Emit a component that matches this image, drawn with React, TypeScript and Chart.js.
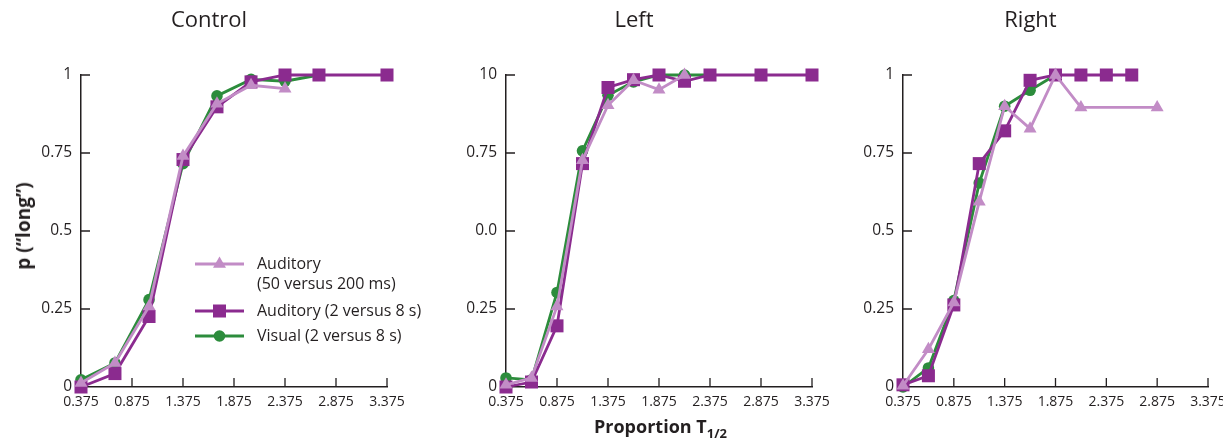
import React, { useEffect, useRef } from 'react';
import { Chart, registerables } from 'chart.js';
import { drawPoint } from 'chart.js/helpers';

Chart.register(...registerables);

const FONT = '"Open Sans", "Noto Sans", sans-serif';
const INK = '#231f20';
const LIGHT = '#C28CC6';
const DARK = '#8B2B8F';
const GREEN = '#2C8C3C';

// ---- axes ----
const xTickValues = [0.375, 0.875, 1.375, 1.875, 2.375, 2.875, 3.375];
const xTickLabels = ['0.375', '0.875', '1.375', '1.875', '2.375', '2.875', '3.375'];
const yTickValues = [0, 0.25, 0.5, 0.75, 1];
const yTickLabelsControl = ['0', '0.25', '0.5', '0.75', '1'];
const yTickLabelsLeft = ['0', '0.25', '0.0', '0.75', '10'];
const yTickLabelsRight = ['0', '0.25', '0.5', '0.75', '1'];

const panelTitles = ['Control', 'Left', 'Right'];
const seriesNames = ['Auditory (50 versus 200 ms)', 'Auditory (2 versus 8 s)', 'Visual (2 versus 8 s)'];
const legendLines = [['Auditory', '(50 versus 200 ms)'], ['Auditory (2 versus 8 s)'], ['Visual (2 versus 8 s)']];

// ---- Control ----
const ctrlTriX = [0.375, 0.708, 1.042, 1.375, 1.708, 2.042, 2.375];
const ctrlTriY = [0.013, 0.077, 0.258, 0.74, 0.908, 0.967, 0.956];
const ctrlSqX = [0.375, 0.708, 1.042, 1.375, 1.708, 2.042, 2.375, 2.708, 3.375];
const ctrlSqY = [0, 0.043, 0.226, 0.729, 0.898, 0.978, 1, 1, 1];
const ctrlCirX = [0.375, 0.708, 1.042, 1.375, 1.708, 2.042, 2.375, 2.708];
const ctrlCirY = [0.023, 0.077, 0.28, 0.716, 0.933, 0.986, 0.98, 1];

// ---- Left ----
const leftTriX = [0.375, 0.625, 0.875, 1.125, 1.375, 1.625, 1.875, 2.125];
const leftTriY = [0.007, 0.029, 0.258, 0.727, 0.903, 0.983, 0.953, 1.0];
const leftSqX = [0.375, 0.625, 0.875, 1.125, 1.375, 1.625, 1.875, 2.125, 2.375, 2.875, 3.375];
const leftSqY = [0, 0.016, 0.196, 0.716, 0.96, 0.985, 1, 0.98, 1, 1, 1];
const leftCirX = [0.375, 0.625, 0.875, 1.125, 1.375, 1.625, 1.875, 2.125, 2.375];
const leftCirY = [0.029, 0.023, 0.303, 0.757, 0.935, 0.978, 1, 1, 1];

// ---- Right ----
const rightTriX = [0.375, 0.625, 0.875, 1.125, 1.375, 1.625, 1.875, 2.125, 2.875];
const rightTriY = [0.004, 0.121, 0.271, 0.594, 0.9, 0.828, 1, 0.896, 0.896];
const rightSqX = [0.375, 0.625, 0.875, 1.125, 1.375, 1.625, 1.875, 2.125, 2.375, 2.625];
const rightSqY = [0.007, 0.036, 0.263, 0.716, 0.821, 0.983, 1, 1, 1, 1];
const rightCirX = [0.375, 0.625, 0.875, 1.125, 1.375, 1.625, 1.875];
const rightCirY = [0, 0.061, 0.277, 0.654, 0.9, 0.951, 1];

const zip = (xs: number[], ys: number[]) => xs.map((x, i) => ({ x, y: ys[i] }));

const styles = [
  { color: LIGHT, pointStyle: 'triangle', radius: 7.5 },
  { color: DARK, pointStyle: 'rect', radius: 9.2 },
  { color: GREEN, pointStyle: 'circle', radius: 5.8 },
];

type Panel = {
  title: string;
  yLabels: string[];
  series: { x: number[]; y: number[] }[];
  plotLeft: number;
  plotRight: number;
  legend: boolean;
};

const panels: Panel[] = [
  {
    title: panelTitles[0], yLabels: yTickLabelsControl, legend: true,
    series: [{ x: ctrlTriX, y: ctrlTriY }, { x: ctrlSqX, y: ctrlSqY }, { x: ctrlCirX, y: ctrlCirY }],
    plotLeft: 81, plotRight: 387,
  },
  {
    title: panelTitles[1], yLabels: yTickLabelsLeft, legend: false,
    series: [{ x: leftTriX, y: leftTriY }, { x: leftSqX, y: leftSqY }, { x: leftCirX, y: leftCirY }],
    plotLeft: 506, plotRight: 812,
  },
  {
    title: panelTitles[2], yLabels: yTickLabelsRight, legend: false,
    series: [{ x: rightTriX, y: rightTriY }, { x: rightSqX, y: rightSqY }, { x: rightCirX, y: rightCirY }],
    plotLeft: 903, plotRight: 1208,
  },
];

const SIDE = 50;
const CANVAS_H = 441;
const PLOT_TOP = 75;
const PLOT_BOTTOM = 387;
const TITLE_SIZE = 22;

const inwardTicks = {
  id: 'inwardTicks',
  beforeDatasetsDraw(chart: any) {
    const { ctx, chartArea, scales } = chart;
    ctx.save();
    ctx.strokeStyle = INK;
    ctx.lineWidth = 1.3;
    ctx.beginPath();
    scales.x.ticks.forEach((t: any) => {
      const px = scales.x.getPixelForValue(t.value);
      if (Math.abs(px - chartArea.left) < 1) return;
      ctx.moveTo(px, chartArea.bottom);
      ctx.lineTo(px, chartArea.bottom - 9);
    });
    scales.y.ticks.forEach((t: any) => {
      const py = scales.y.getPixelForValue(t.value);
      if (Math.abs(py - chartArea.bottom) < 1) return;
      ctx.moveTo(chartArea.left, py);
      ctx.lineTo(chartArea.left + 9, py);
    });
    ctx.stroke();
    ctx.restore();
  },
};

const legendPlugin = {
  id: 'panelLegend',
  afterDatasetsDraw(chart: any, _args: any, opts: any) {
    if (!opts || !opts.show) return;
    const { ctx, chartArea } = chart;
    const x0 = chartArea.left + 114;
    const lineLen = 49;
    const rows = [chartArea.top + 189, chartArea.top + 236, chartArea.top + 261];
    ctx.save();
    legendLines.forEach((lines, i) => {
      const y = rows[i];
      const st = styles[i];
      ctx.strokeStyle = st.color;
      ctx.lineWidth = 2.8;
      ctx.beginPath();
      ctx.moveTo(x0, y);
      ctx.lineTo(x0 + lineLen, y);
      ctx.stroke();
      ctx.fillStyle = st.color;
      drawPoint(ctx, { pointStyle: st.pointStyle as any, radius: st.radius, rotation: 0, borderWidth: 0 } as any, x0 + lineLen / 2, y);
      ctx.fillStyle = INK;
      ctx.font = `16px ${FONT}`;
      ctx.textBaseline = 'middle';
      ctx.textAlign = 'left';
      lines.forEach((ln, j) => ctx.fillText(ln, x0 + 62, y + j * 20));
    });
    ctx.restore();
  },
};

function PanelChart({ p }: { p: Panel }) {
  const ref = useRef<HTMLCanvasElement | null>(null);
  const width = p.plotRight - p.plotLeft + SIDE * 2;
  useEffect(() => {
    if (!ref.current) return;
    const chart = new Chart(ref.current, {
      type: 'line',
      data: {
        datasets: p.series.map((s, i) => ({
          label: seriesNames[i],
          data: zip(s.x, s.y),
          borderColor: styles[i].color,
          backgroundColor: styles[i].color,
          pointBackgroundColor: styles[i].color,
          pointBorderWidth: 0,
          pointStyle: styles[i].pointStyle as any,
          pointRadius: styles[i].radius,
          borderWidth: 2.8,
          tension: 0,
          clip: false as any,
        })),
      },
      options: {
        animation: false,
        responsive: false,
        devicePixelRatio: 1,
        layout: { padding: { left: 0, right: SIDE, top: 0, bottom: 0 } },
        plugins: {
          legend: { display: false },
          tooltip: { enabled: false },
          title: {
            display: true,
            text: p.title,
            color: INK,
            font: { family: FONT, size: TITLE_SIZE, weight: 'normal' as any, lineHeight: 1.2 },
            padding: { top: 8, bottom: PLOT_TOP - 8 - TITLE_SIZE * 1.2 },
          },
          panelLegend: { show: p.legend },
        } as any,
        scales: {
          x: {
            type: 'linear',
            min: 0.375,
            max: 3.375,
            afterBuildTicks: (scale: any) => {
              scale.ticks = xTickValues.map((v) => ({ value: v }));
            },
            afterFit: (scale: any) => {
              scale.height = CANVAS_H - PLOT_BOTTOM;
            },
            ticks: {
              color: INK,
              font: { family: FONT, size: 14 },
              padding: 7,
              maxRotation: 0,
              autoSkip: false,
              callback: (_v: any, i: number) => xTickLabels[i],
            },
            grid: { display: true, drawOnChartArea: false, drawTicks: false },
            border: { display: true, color: INK, width: 1.5 },
          },
          y: {
            type: 'linear',
            min: 0,
            max: 1,
            afterBuildTicks: (scale: any) => {
              scale.ticks = yTickValues.map((v) => ({ value: v }));
            },
            afterFit: (scale: any) => {
              scale.width = SIDE;
            },
            ticks: {
              color: INK,
              font: { family: FONT, size: 15.5 },
              padding: 9,
              autoSkip: false,
              callback: (_v: any, i: number) => p.yLabels[i],
            },
            grid: { display: true, drawOnChartArea: false, drawTicks: false },
            border: { display: true, color: INK, width: 1.5 },
          },
        },
      },
      plugins: [inwardTicks, legendPlugin],
    });
    return () => chart.destroy();
  }, [p]);
  return (
    <canvas
      ref={ref}
      width={width}
      height={CANVAS_H}
      style={{ position: 'absolute', left: p.plotLeft - SIDE, top: 0, width, height: CANVAS_H }}
    />
  );
}

export default function App() {
  return (
    <div
      style={{
        position: 'absolute',
        left: 0,
        top: 0,
        width: 1223,
        height: 441,
        overflow: 'hidden',
        background: '#ffffff',
        fontFamily: FONT,
        color: INK,
      }}
    >
      {panels.map((p) => (
        <PanelChart key={p.title} p={p} />
      ))}
      <div
        style={{
          position: 'absolute',
          left: 23,
          top: 226,
          transform: 'translate(-50%, -50%) rotate(-90deg)',
          whiteSpace: 'nowrap',
          fontWeight: 700,
          fontSize: 19,
          lineHeight: '22px',
        }}
      >
        p (“long”)
      </div>
      <div
        style={{
          position: 'absolute',
          left: 594,
          top: 415,
          whiteSpace: 'nowrap',
          fontWeight: 700,
          fontSize: 18,
          lineHeight: '22px',
        }}
      >
        Proportion T<sub style={{ fontSize: 13, verticalAlign: '-5px', lineHeight: 0 }}>1/2</sub>
      </div>
    </div>
  );
}
